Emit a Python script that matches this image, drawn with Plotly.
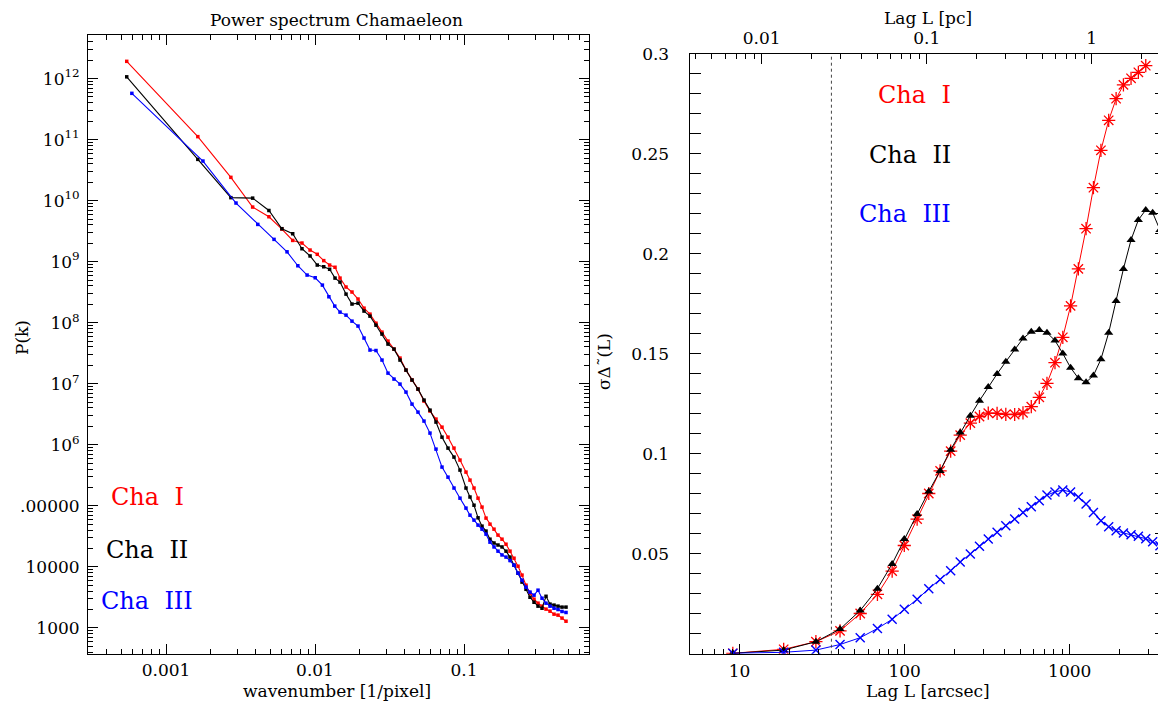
import math
import plotly.graph_objects as go

# The page has an 8 px body margin, so the figure is drawn 8 px in from the
# window's top-left corner; positions below are given in window pixels.
OFF = 8
W, H = 1166 - OFF, 702 - OFF

# ---------------- Left panel: power spectrum ----------------
# wavenumbers of the low-k points (Cha I / Cha II share the grid, Cha III its own)
k_low_12 = [0.000545, 0.001635, 0.002725, 0.003815, 0.004905, 0.005995, 0.007085,
            0.008175, 0.009265, 0.010355, 0.011445, 0.012535, 0.013625]
k_low_3 = [0.00059, 0.00177, 0.00295, 0.00413, 0.00531, 0.00649, 0.00767,
           0.00885, 0.01003, 0.01121, 0.01239, 0.01357]
k_high = [0.01472, 0.01615, 0.01771, 0.01944, 0.02133, 0.02339, 0.02566, 0.02816,
          0.03089, 0.0339, 0.03719, 0.0408, 0.04477, 0.04911, 0.05389, 0.05912,
          0.06487, 0.07117, 0.07809, 0.08567, 0.09399, 0.1031, 0.1097, 0.1167,
          0.1242, 0.1321, 0.1405, 0.1494, 0.159, 0.1691, 0.1799, 0.1914, 0.2036,
          0.2166, 0.2304, 0.2451, 0.2607, 0.2773, 0.2951, 0.3139, 0.3339, 0.3552,
          0.3778, 0.4019, 0.4276, 0.4548, 0.4838]

p_cha1_low = [1.92e12, 1.12e11, 2.41e10, 7.85e9, 5.45e9, 3.42e9, 2.23e9, 2.02e9,
              1.55e9, 1.32e9, 1.04e9, 8.8e8, 8.1e8]
p_cha1_high = [5.38e8, 3.84e8, 3.18e8, 2.44e8, 1.73e8, 1.38e8, 9.8e7, 7.0e7, 4.99e7,
               3.69e7, 2.63e7, 1.67e7, 1.15e7, 8.15e6, 5.19e6, 3.56e6, 2.63e6, 1.94e6,
               1.33e6, 8.8e5, 5.6e5, 3.56e5, 2.63e5, 1.95e5, 1.33e5, 9.5e4, 6.27e4,
               4.99e4, 4.13e4, 3.30e4, 2.83e4, 2.34e4, 1.80e4, 1.38e4, 1.02e4, 7.3e3,
               4.99e3, 3.69e3, 2.94e3, 2.53e3, 2.26e3, 2.02e3, 1.87e3, 1.67e3, 1.61e3,
               1.44e3, 1.28e3]

p_cha2_low = [1.07e12, 4.75e10, 1.12e10, 1.10e10, 6.9e9, 3.47e9, 2.87e9, 1.63e9,
              1.24e9, 8.8e8, 8.25e8, 7.5e8, 5.38e8]
p_cha2_high = [4.63e8, 2.94e8, 2.02e8, 2.09e8, 1.55e8, 1.28e8, 9.1e7, 6.5e7, 4.46e7,
               3.69e7, 2.44e7, 1.67e7, 1.15e7, 8.15e6, 5.39e6, 3.69e6, 2.35e6, 1.33e6,
               8.8e5, 6.27e5, 3.84e5, 1.95e5, 1.39e5, 1.02e5, 6.34e4, 4.63e4, 3.84e4,
               2.83e4, 2.45e4, 2.27e4, 2.11e4, 1.80e4, 1.44e4, 1.06e4, 7.85e3, 5.6e3,
               4.27e3, 3.16e3, 2.62e3, 2.26e3, 2.09e3, 3.28e3, 2.44e3, 2.35e3, 2.26e3,
               2.18e3, 2.18e3]

p_cha3_low = [5.74e11, 4.46e10, 9.14e9, 4.08e9, 2.32e9, 1.45e9, 8.57e8, 6.03e8,
              5.45e8, 4.13e8, 2.66e8, 1.87e8]
p_cha3_high = [1.49e8, 1.33e8, 1.06e8, 8.8e7, 5.6e7, 3.56e7, 3.5e7, 2.44e7, 1.49e7,
               1.19e7, 9.85e6, 7.28e6, 4.63e6, 3.42e6, 2.44e6, 1.55e6, 8.47e5, 4.30e5,
               2.94e5, 1.95e5, 1.33e5, 9.14e4, 7.0e4, 5.81e4, 4.81e4, 4.13e4, 3.42e4,
               2.53e4, 2.11e4, 1.80e4, 1.56e4, 1.44e4, 1.26e4, 1.06e4, 7.85e3, 6.03e3,
               4.63e3, 3.84e3, 3.42e3, 4.13e3, 3.05e3, 2.53e3, 2.26e3, 2.09e3, 1.99e3,
               1.85e3, 1.78e3]

ps_yticks = [1e3, 1e4, 1e5, 1e6, 1e7, 1e8, 1e9, 1e10, 1e11, 1e12]
ps_ytext = ["1000", "10000", ".00000", "10<sup>6</sup>", "10<sup>7</sup>",
            "10<sup>8</sup>", "10<sup>9</sup>", "10<sup>10</sup>", "10<sup>11</sup>",
            "10<sup>12</sup>"]
ps_xticks = [0.001, 0.01, 0.1]
ps_xtext = ["0.001", "0.01", "0.1"]

# ---------------- Right panel: Delta-variance ----------------
lag_arcsec = [9.1, 18.5, 29, 40.6, 53.8, 68.4, 84, 99.5, 119, 140, 164, 190, 217, 250,
              284, 321, 363, 410, 464, 521, 585, 654, 728, 814, 908, 1012, 1128, 1256,
              1392, 1545, 1722, 1910, 2115, 2352, 2605, 2888, 3180, 3520, 3830]
dv_cha1 = [0.0002, 0.0022, 0.0060, 0.0114, 0.0201, 0.0297, 0.0413, 0.0541, 0.0673,
           0.0801, 0.0914, 0.1013, 0.1093, 0.1153, 0.1186, 0.1203, 0.1202, 0.1197,
           0.1196, 0.1204, 0.1235, 0.1282, 0.1352, 0.1455, 0.1582, 0.1739, 0.1924,
           0.2125, 0.2330, 0.2517, 0.2667, 0.2775, 0.2844, 0.2877, 0.2907, 0.2940]
dv_cha2 = [0.0002, 0.0018, 0.0060, 0.0123, 0.0216, 0.0325, 0.0449, 0.0574, 0.0698,
           0.0811, 0.0914, 0.1020, 0.1106, 0.1190, 0.1265, 0.1333, 0.1399, 0.1460,
           0.1521, 0.1576, 0.1610, 0.1618, 0.1605, 0.1566, 0.1501, 0.1430, 0.1377,
           0.1357, 0.1391, 0.1472, 0.1605, 0.1764, 0.1924, 0.2069, 0.2169, 0.2219,
           0.2205, 0.2119, 0.2030]
dv_cha3 = [0.0002, 0.0007, 0.0018, 0.0046, 0.0080, 0.0126, 0.0172, 0.0222, 0.0272,
           0.0325, 0.0371, 0.0415, 0.0458, 0.0499, 0.0537, 0.0574, 0.0607, 0.0640,
           0.0673, 0.0706, 0.0735, 0.0765, 0.0793, 0.0809, 0.0818, 0.0809, 0.0784,
           0.0748, 0.0706, 0.0665, 0.0635, 0.0615, 0.0604, 0.0595, 0.0587, 0.0575,
           0.0560, 0.0540, 0.0500]
beam_arcsec = 36
arcsec_per_pc = 1360

dv_yticks = [0.05, 0.1, 0.15, 0.2, 0.25, 0.3]
dv_ytext = ["0.05", "0.1", "0.15", "0.2", "0.25", "0.3"]
lag_ticks = [10, 100, 1000]
lag_text = ["10", "100", "1000"]
pc_ticks = [0.01, 0.1, 1]
pc_text = ["0.01", "0.1", "1"]

names = ["Cha I", "Cha II", "Cha III"]
colors = ["#ff0000", "#000000", "#0000ff"]

FONT = "DejaVu Serif"


def minors(e0, e1):
    return [m * 10.0 ** e for e in range(e0, e1 + 1) for m in range(2, 10)]


def px(x):
    return (x - OFF) / W


def py(y):
    return 1 - (y - OFF) / H


fig = go.Figure()

# left panel traces
for k, p, c in [(k_low_12 + k_high, p_cha1_low + p_cha1_high, colors[0]),
                (k_low_12 + k_high, p_cha2_low + p_cha2_high, colors[1]),
                (k_low_3 + k_high, p_cha3_low + p_cha3_high, colors[2])]:
    fig.add_trace(go.Scatter(x=k, y=p, xaxis="x", yaxis="y", mode="lines+markers",
                             line=dict(color=c, width=1.1),
                             marker=dict(color=c, size=3.5, symbol="square"),
                             showlegend=False, hoverinfo="skip"))

# right panel traces
fig.add_trace(go.Scatter(x=lag_arcsec[:len(dv_cha1)], y=dv_cha1, xaxis="x2", yaxis="y2",
                         mode="lines+markers", line=dict(color=colors[0], width=1),
                         marker=dict(symbol="asterisk-open", size=11,
                                     line=dict(color=colors[0], width=1.3)),
                         showlegend=False, hoverinfo="skip"))
fig.add_trace(go.Scatter(x=lag_arcsec[:len(dv_cha2)], y=dv_cha2, xaxis="x2", yaxis="y2",
                         mode="lines+markers", line=dict(color=colors[1], width=1),
                         marker=dict(symbol="triangle-up", size=8, color=colors[1]),
                         showlegend=False, hoverinfo="skip"))
fig.add_trace(go.Scatter(x=lag_arcsec[:len(dv_cha3)], y=dv_cha3, xaxis="x2", yaxis="y2",
                         mode="lines+markers", line=dict(color=colors[2], width=1),
                         marker=dict(symbol="x-thin-open", size=9,
                                     line=dict(color=colors[2], width=1.4)),
                         showlegend=False, hoverinfo="skip"))
# carrier for the top (pc) axis
fig.add_trace(go.Scatter(x=pc_ticks, y=[None] * len(pc_ticks), xaxis="x3", yaxis="y2",
                         mode="markers", showlegend=False, hoverinfo="skip"))

tickfont = dict(family=FONT, size=17, color="black")
common = dict(showgrid=False, zeroline=False, showline=True, linecolor="black",
              linewidth=1, ticks="inside", tickcolor="black", tickwidth=1,
              tickfont=tickfont)

log = math.log10

fig.update_layout(
    width=W, height=H, margin=dict(l=0, r=0, t=0, b=0),
    paper_bgcolor="white", plot_bgcolor="white", template="none",
    xaxis=dict(**common, type="log", domain=[px(88), px(589)], anchor="y",
               range=[-3.5235, -0.1611], tickmode="array", tickvals=ps_xticks,
               ticktext=ps_xtext, ticklen=10, mirror="allticks", ticklabelstandoff=1,
               minor=dict(tickmode="array", tickvals=minors(-4, -1), ticks="inside",
                          ticklen=5, tickcolor="black", showgrid=False)),
    yaxis=dict(**common, type="log", domain=[py(654), py(35)], anchor="x",
               range=[2.570, 12.715], tickmode="array", tickvals=ps_yticks,
               ticktext=ps_ytext, ticklen=10, mirror="allticks", ticklabelstandoff=4,
               minor=dict(tickmode="array", tickvals=minors(2, 12), ticks="inside",
                          ticklen=5, tickcolor="black", showgrid=False)),
    xaxis2=dict(**common, type="log", domain=[px(689.6), 1.0], anchor="y2",
                range=[log(4.98), log(3830)], tickmode="array", tickvals=lag_ticks,
                ticktext=lag_text, ticklen=10, ticklabelstandoff=2,
                minor=dict(tickmode="array", tickvals=minors(0, 3), ticks="inside",
                           ticklen=5, tickcolor="black", showgrid=False)),
    xaxis3=dict(**common, type="log", overlaying="x2", side="top", anchor="y2",
                range=[log(4.98 / arcsec_per_pc), log(3830 / arcsec_per_pc)],
                tickmode="array", tickvals=pc_ticks, ticktext=pc_text, ticklen=10,
                ticklabelstandoff=2,
                minor=dict(tickmode="array", tickvals=minors(-3, 0), ticks="inside",
                           ticklen=5, tickcolor="black", showgrid=False)),
    yaxis2=dict(**common, domain=[py(653.7), py(53.7)], anchor="x2", range=[0, 0.3],
                tickmode="array", tickvals=dv_yticks, ticktext=dv_ytext, ticklen=11,
                mirror="allticks", ticklabelstandoff=16,
                minor=dict(dtick=0.01, ticks="inside", ticklen=5, tickcolor="black",
                           showgrid=False)),
)

fig.add_shape(type="line", xref="x2", yref="y2 domain", x0=beam_arcsec, x1=beam_arcsec,
              y0=0, y1=1, line=dict(color="#444444", width=1, dash="dot"))

ann = []
txt = dict(family=FONT, size=17, color="black")
ann.append(dict(text="Power spectrum Chamaeleon", x=px(337), y=py(8), yanchor="top",
                font=dict(family=FONT, size=17, color="black")))
ann.append(dict(text="wavenumber [1/pixel]", x=px(337), y=py(691), font=txt))
ann.append(dict(text="P(k)", x=px(22), y=py(338), font=txt, textangle=-90))
ann.append(dict(text="Lag L [arcsec]", x=px(928), y=py(691), font=txt))
ann.append(dict(text="Lag L [pc]", x=px(928), y=py(18), font=txt))
ann.append(dict(text="σΔ˜(L)", x=px(604), y=py(362), font=txt, textangle=-90))

leg_font = 24
for name, c, y in zip(names, colors, [497, 550, 601]):
    ann.append(dict(text=name.replace(" ", "\u00a0\u00a0"), x=px(147), y=py(y),
                    font=dict(family=FONT, size=leg_font, color=c), xanchor="center"))
for name, c, y in zip(names, colors, [95, 155, 214]):
    ann.append(dict(text=name.replace(" ", "\u00a0\u00a0"), x=px(953), y=py(y),
                    font=dict(family=FONT, size=leg_font, color=c), xanchor="right"))

for a in ann:
    a.setdefault("xanchor", "center")
    a.setdefault("yanchor", "middle")
    a.update(xref="paper", yref="paper", showarrow=False)
    fig.add_annotation(**a)

fig.write_html("out.html")
